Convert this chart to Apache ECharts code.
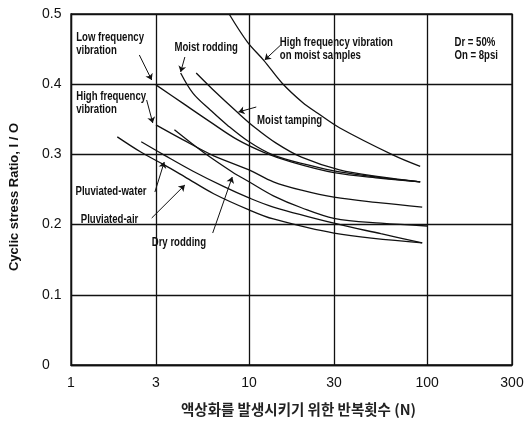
<!DOCTYPE html>
<html><head><meta charset="utf-8">
<script src="https://cdn.jsdelivr.net/npm/echarts@6/dist/echarts.min.js"></script>
<style>html,body{margin:0;padding:0;background:#fff}#c{width:527px;height:421px}</style>
</head><body><div id="c"></div>
<script>
// Tick values
const xTicks = [1, 3, 10, 30, 100, 300];
const yTicks = [0, 0.1, 0.2, 0.3, 0.4, 0.5];

// Curves: [number of cycles N, cyclic stress ratio]
const hfVibMoist   = [[7.73,0.500],[9.8,0.460],[12.1,0.434],[15.4,0.401],[20,0.374],[24.2,0.359],[32.2,0.338],[64.6,0.299],[91.5,0.283]];
const moistRodding = [[4.13,0.416],[4.85,0.387],[6.08,0.363],[7.53,0.342],[10,0.318],[13.7,0.299],[21.4,0.285],[32.2,0.275],[55,0.267],[91.5,0.261]];
const moistTamping = [[5.05,0.416],[6.59,0.387],[8.6,0.360],[10.7,0.339],[14.2,0.316],[19.7,0.296],[32.2,0.278],[55,0.268],[91.5,0.261]];
const lowFreqVib   = [[3,0.399],[4.24,0.373],[6.08,0.346],[8.6,0.321],[12.1,0.303],[17.4,0.289],[30,0.274],[55,0.266],[91.5,0.261]];
const highFreqVib  = [[3,0.342],[4.24,0.321],[6.33,0.298],[10,0.278],[13.7,0.261],[19.7,0.249],[30,0.239],[55,0.231],[93.9,0.225]];
const dryRodding   = [[3.81,0.335],[5.54,0.303],[8.05,0.275],[10,0.261],[13.7,0.241],[19.7,0.224],[30,0.209],[55,0.202],[100,0.198]];
const pluvWater    = [[2.48,0.318],[3.34,0.299],[4.85,0.276],[7.23,0.254],[10,0.238],[13.7,0.225],[30,0.202],[55,0.187],[93.9,0.174]];
const pluvAir      = [[1.82,0.325],[2.48,0.303],[3.34,0.285],[4.36,0.268],[6.33,0.244],[10,0.221],[13.7,0.208],[30,0.188],[93.9,0.174]];

const curveNames = ['High frequency vibration on moist samples','Moist rodding','Moist tamping','Low frequency vibration','High frequency vibration','Dry rodding','Pluviated-water','Pluviated-air'];
const curves = [hfVibMoist, moistRodding, moistTamping, lowFreqVib, highFreqVib, dryRodding, pluvWater, pluvAir];

// Annotation texts and anchor points (data coords, left edge / vertical middle)
const noteTexts = ['Low frequency\nvibration','Moist rodding','High frequency vibration\non moist samples','Dr = 50%\nOn = 8psi','High frequency\nvibration','Moist tamping','Pluviated-water','Pluviated-air','Dry rodding'];
const noteAnchors = [[1.07,0.4566],[3.81,0.4516],[14.9,0.450],[142.6,0.450],[1.07,0.3725],[11.1,0.3476],[1.06,0.2464],[1.134,0.2066],[2.84,0.1738]];
// Arrows: [from, to]
const arrows = [
  [[2.42,0.4416],[2.84,0.406]],
  [[4.36,0.4387],[4.13,0.4174]],
  [[15.06,0.4558],[12.25,0.4345]],
  [[2.66,0.3775],[2.88,0.3447]],
  [[10.98,0.3675],[8.72,0.3604]],
  [[2.96,0.2464],[3.34,0.2892]],
  [[2.84,0.2094],[4.36,0.2564]],
  [[6.25,0.1880],[8.05,0.2678]]
];

const chart = echarts.init(document.getElementById('c'), null, {renderer:'canvas'});
const series = curves.map((d, i) => ({
  name: curveNames[i], type: 'line', data: d, smooth: 0.35, showSymbol: false, symbol: 'none',
  lineStyle: {color: '#111', width: 1.3}, silent: true, animation: false, z: 3
}));
series.push({
  type: 'lines', coordinateSystem: 'cartesian2d', silent: true, animation: false, z: 6,
  symbol: ['none','arrow'], symbolSize: 6,
  lineStyle: {color: '#111', width: 1, opacity: 1, curveness: 0},
  data: arrows.map(a => ({coords: a}))
});

chart.setOption({
  animation: false,
  backgroundColor: '#fff',
  grid: {left: 71, right: 15, top: 14, bottom: 56, show: true, borderColor: '#111', borderWidth: 1.3, outerBoundsMode: 'none', containLabel: false},
  xAxis: {
    type: 'log', logBase: 10, min: 1, max: 300,
    name: '액상화를 발생시키기 위한 반복횟수 (N)', nameLocation: 'middle', nameGap: 37,
    nameTextStyle: {fontFamily: "'Noto Sans CJK KR',sans-serif", fontSize: 14.5, fontWeight: 'bold', color: '#222', padding: [0,0,0,14]},
    axisLine: {show: true, lineStyle: {color: '#111', width: 1.3}},
    axisTick: {show: false, customValues: xTicks},
    axisLabel: {customValues: xTicks, margin: 11, color: '#111', fontSize: 14, fontFamily: "'Liberation Sans',Arial,sans-serif"},
    splitLine: {show: true, lineStyle: {color: '#111', width: 1.3}},
    minorSplitLine: {show: false}
  },
  yAxis: {
    type: 'value', min: 0, max: 0.5, interval: 0.1,
    name: 'Cyclic stress Ratio, I / O', nameLocation: 'middle', nameGap: 50, nameRotate: 90,
    nameTextStyle: {fontFamily: "'Liberation Sans',Arial,sans-serif", fontSize: 13, fontWeight: 'bold', color: '#111', padding: [0,15,0,0]},
    axisLine: {show: true, lineStyle: {color: '#111', width: 1.3}},
    axisTick: {show: false},
    axisLabel: {margin: 29, align: 'left', color: '#111', fontSize: 14, fontFamily: "'Liberation Sans',Arial,sans-serif",
      formatter: v => v === 0 ? '0' : v.toFixed(1)},
    splitLine: {show: true, lineStyle: {color: '#111', width: 1.3}}
  },
  series: series
});

// Condensed annotation texts placed at data coordinates via the chart's own scales
const graphics = noteAnchors.map((p, i) => {
  const px = chart.convertToPixel({gridIndex: 0}, p);
  return {
    type: 'text', x: px[0], y: px[1], scaleX: 0.8, scaleY: 1, z: 10, silent: true,
    style: {text: noteTexts[i], fill: '#111', font: "bold 12px 'Liberation Sans', Arial, sans-serif",
      lineHeight: 13, textAlign: 'left', textVerticalAlign: 'middle', verticalAlign: 'middle'}
  };
});
chart.setOption({graphic: graphics});
</script></body></html>
